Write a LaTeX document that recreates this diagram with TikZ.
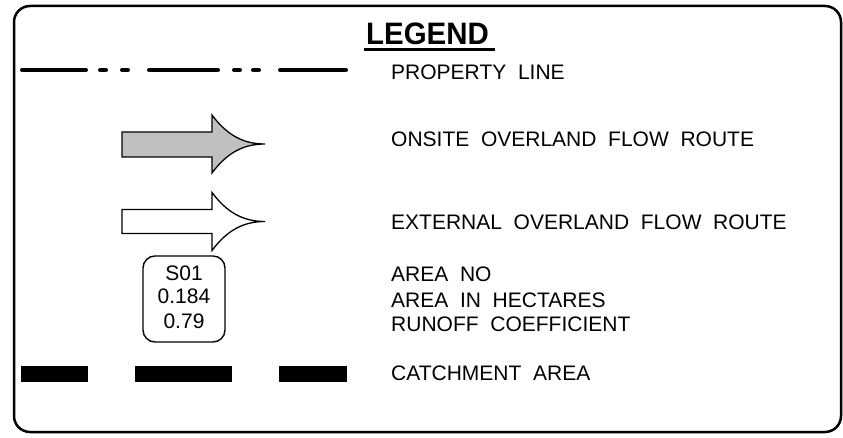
\documentclass[tikz,border=0pt]{standalone}
\usepackage{fontspec}
\setmainfont{Liberation Sans}
\begin{document}
\begin{tikzpicture}[x=1pt,y=-1pt,
  txt/.style={inner sep=0pt,anchor=base west,font=\fontsize{21}{24}\selectfont},
  boxtxt/.style={inner sep=0pt,anchor=base,font=\fontsize{21}{24}\selectfont},
  frame/.style={line width=2.5pt,rounded corners=16pt},
  propline/.style={line width=4pt,line cap=round},
  flowarrow/.style={line width=1.3pt,line join=miter},
  areabox/.style={draw,line width=1.4pt,rounded corners=12pt,minimum width=82pt,minimum height=86pt,inner sep=0pt},
  catch/.style={fill=black}]
\useasboundingbox (0,0) rectangle (843,438);
% frame
\draw[frame] (14,6) rectangle (841,432);
% title
\node[inner sep=0pt,anchor=base west,font=\fontsize{31}{36}\selectfont\bfseries,xscale=0.95] (legend) at (366,45) {LEGEND};
\draw[line width=2.5pt] (364,49.5) -- (495,49.5);
% property line
\draw[propline] (22,70) -- (86,70);
\draw[propline] (100,70) -- (106,70);
\draw[propline] (122,70) -- (128,70);
\draw[propline] (149,70) -- (218,70);
\draw[propline] (234,70) -- (240,70);
\draw[propline] (253,70) -- (259,70);
\draw[propline] (280,70) -- (346,70);
\node[txt] (tprop) at (391,80) {PROPERTY\ \ LINE};
% onsite arrow
\draw[flowarrow,fill={rgb,255:red,192;green,192;blue,192}] (122,132) -- (212,132) -- (212,115)
  .. controls (227,135) and (243,144) .. (265,144)
  .. controls (243,144) and (227,153) .. (212,173) -- (212,157) -- (122,157) -- cycle;
\node[txt] (tonsite) at (391,147) {ONSITE\ \ OVERLAND\ \ FLOW\ \ ROUTE};
% external arrow
\draw[flowarrow,fill=white] (122,209.5) -- (212,209.5) -- (212,192.5)
  .. controls (227,212.5) and (243,221.5) .. (265,221.5)
  .. controls (243,221.5) and (227,230.5) .. (212,250.5) -- (212,233.5) -- (122,233.5) -- cycle;
\node[txt] (texternal) at (391,230) {EXTERNAL\ \ OVERLAND\ \ FLOW\ \ ROUTE};
% area box
\node[areabox] (abox) at (184,299) {};
\node[boxtxt] (s01) at (184,280) {S01};
\node[boxtxt] (aha) at (184,304) {0.184};
\node[boxtxt] (arc) at (184,328) {0.79};
\node[txt] (tareano) at (391,282) {AREA\ \ NO};
\node[txt] (tareaha) at (391,307) {AREA\ \ IN\ \ HECTARES};
\node[txt] (trunoff) at (391,331) {RUNOFF\ \ COEFFICIENT};
% catchment
\fill[catch] (21,366) rectangle (88,382);
\fill[catch] (135,366) rectangle (232,382);
\fill[catch] (279,366) rectangle (347,382);
\node[txt] (tcatch) at (391,380) {CATCHMENT\ \ AREA};
\end{tikzpicture}
\end{document}
